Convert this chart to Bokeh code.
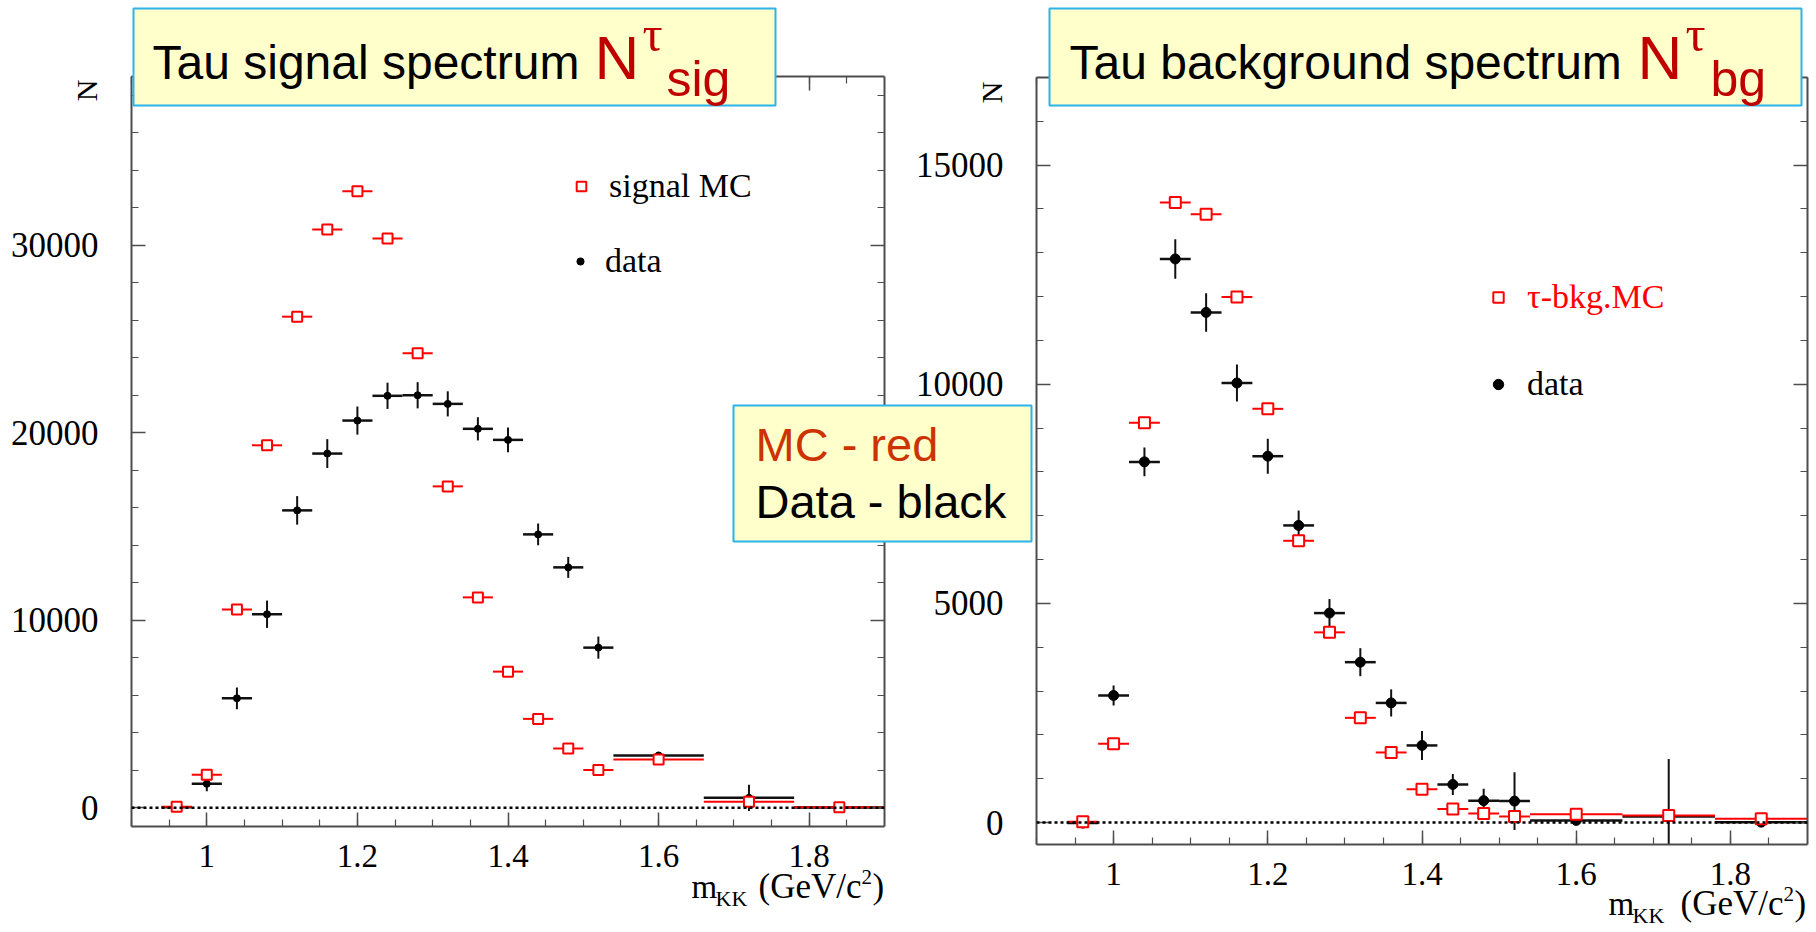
import numpy as np
from bokeh.plotting import figure
from bokeh.models import (GridBox, Range1d, LinearAxis, SingleIntervalTicker, Span,
                          Legend, LegendItem, ColumnDataSource, CustomJSTickFormatter, Label)
from bokeh.core.properties import value
from bokeh.embed import file_html
from bokeh.resources import INLINE

W, H = 1816, 932

# ---------------- data ----------------
bin_edges = [0.94, 0.98, 1.02, 1.06, 1.10, 1.14, 1.18, 1.22, 1.26, 1.30, 1.34,
             1.38, 1.42, 1.46, 1.50, 1.54, 1.66, 1.78, 1.90]

sig_mc = [50, 1760, 10580, 19330, 26190, 30840, 32880, 30360, 24240, 17140,
          11220, 7260, 4740, 3160, 2010, 2580, 320, 30]
sig_data = [30, 1280, 5840, 10320, 15860, 18890, 20650, 21970, 22000, 21540,
            20210, 19620, 14580, 12820, 8540, 2790, 530, 20]
sig_data_err = [100, 400, 580, 730, 760, 770, 750, 700, 700, 670,
                620, 660, 580, 560, 590, 150, 700, 100]

bg_mc = [20, 1800, 9120, 14150, 13880, 11990, 9440, 6430, 4340, 2390,
         1600, 760, 310, 210, 140, 190, 160, 90]
bg_data = [-10, 2900, 8230, 12860, 11640, 10030, 8360, 6780, 4780, 3660,
           2730, 1760, 870, 500, 490, 50, 140, 10]
bg_data_err = [60, 230, 330, 450, 440, 420, 400, 340, 320, 320,
               310, 330, 240, 270, 660, 60, 1310, 60]

x_ticks_interval = 0.2
left_title = "Tau signal spectrum"
right_title = "Tau background spectrum"

AXC = "#4d4d4d"
RED = "#ff0000"
SERIF = "Liberation Serif"
SANS = "Liberation Sans"


def style_axis(ax, show_labels, label_size, standoff):
    ax.axis_line_color = AXC
    ax.axis_line_width = 2
    ax.major_tick_line_color = AXC
    ax.major_tick_line_width = 1.5
    ax.minor_tick_line_color = AXC
    ax.minor_tick_line_width = 1.2
    ax.major_tick_in = 14
    ax.major_tick_out = 0
    ax.minor_tick_in = 7
    ax.minor_tick_out = 0
    ax.major_label_text_font = SERIF
    ax.major_label_text_font_size = label_size
    ax.major_label_text_color = "black"
    ax.major_label_standoff = standoff
    if not show_labels:
        ax.formatter = CustomJSTickFormatter(code="return ''")


def make_panel(mc, data, derr, yr, yint, borders, mc_size, d_size, mc_label, mc_label_color,
               leg_mc, leg_data, gw_mc, gw_data, transparent):
    bl, br, bt, bb = borders
    p = figure(width=W, height=H, x_range=Range1d(0.9, 1.9), y_range=Range1d(*yr),
               output_backend="svg", toolbar_location=None, title=None,
               x_axis_location=None, y_axis_location=None, frame_align=False,
               min_border_left=bl, min_border_right=br, min_border_top=bt, min_border_bottom=bb)
    p.xgrid.visible = False
    p.ygrid.visible = False
    p.outline_line_color = None
    if transparent:
        p.background_fill_color = None
        p.border_fill_color = None

    xfmt = CustomJSTickFormatter(code="return (Math.round(tick*10)/10).toString();")
    for loc in ("below", "above"):
        ax = LinearAxis(ticker=SingleIntervalTicker(interval=x_ticks_interval, num_minor_ticks=4))
        if loc == "below":
            ax.formatter = xfmt
        style_axis(ax, loc == "below", "33px", 18)
        p.add_layout(ax, loc)
    for loc in ("left", "right"):
        ax = LinearAxis(ticker=SingleIntervalTicker(interval=yint, num_minor_ticks=5))
        style_axis(ax, loc == "left", "35px", 33)
        p.add_layout(ax, loc)

    edges = np.array(bin_edges)
    lo, hi = edges[:-1], edges[1:]
    xc = (lo + hi) / 2
    d = np.array(data, dtype=float)
    e = np.array(derr, dtype=float)
    src = ColumnDataSource(dict(x=xc, lo=lo, hi=hi, mc=mc, data=d, dlo=d - e, dhi=d + e))

    p.add_layout(Span(location=0, dimension="width", line_color="black",
                      line_dash="3 3", line_width=2.5))

    p.segment(x0="lo", y0="data", x1="hi", y1="data", source=src, line_color="#111111", line_width=2.5)
    p.segment(x0="x", y0="dlo", x1="x", y1="dhi", source=src, line_color="#111111", line_width=2)
    r_data = p.scatter("x", "data", source=src, marker="circle", size=d_size,
                       fill_color="black", line_color="black")
    p.segment(x0="lo", y0="mc", x1="hi", y1="mc", source=src, line_color=RED, line_width=2)
    r_mc = p.scatter("x", "mc", source=src, marker="square", size=mc_size,
                     fill_color="white", line_color=RED, line_width=2)

    for label, rend, loc, col, gw in ((mc_label, r_mc, leg_mc, mc_label_color, gw_mc),
                                      ("data", r_data, leg_data, "black", gw_data)):
        leg = Legend(items=[LegendItem(label=label, renderers=[rend])], location=loc,
                     border_line_color=None, background_fill_alpha=0, padding=0, margin=0,
                     spacing=0, glyph_width=gw, glyph_height=40, label_height=40,
                     label_standoff=16, label_text_font=SERIF, label_text_font_size="34px",
                     label_text_color=col)
        p.add_layout(leg)
    return p


p1 = make_panel(sig_mc, sig_data, sig_data_err, (-1000, 39000), 10000,
                (131, W - 884, 76, H - 826), 10, 7, "signal MC", "black",
                (438, 620), (440, 545), 24, 18, False)
p2 = make_panel(bg_mc, bg_data, bg_data_err, (-500, 17000), 5000,
                (1036, W - 1807, 77, H - 844), 11, 10, "\u03c4-bkg.MC", RED,
                (449, 527), (449, 440), 26, 26, True)

# ---------------- overlay with text boxes and titles ----------------
p3 = figure(width=W, height=H, x_range=Range1d(0, W), y_range=Range1d(H, 0),
            output_backend="svg", toolbar_location=None, title=None, frame_align=False,
            x_axis_location=None, y_axis_location=None, min_border=0)
p3.xgrid.visible = False
p3.ygrid.visible = False
p3.outline_line_color = None
p3.background_fill_color = None
p3.border_fill_color = None

BOXFILL = "#ffffcc"
BOXLINE = "#2bb3ea"
p3.quad(left=[133, 1049, 733], right=[775, 1801, 1031], top=[8, 8, 405], bottom=[105, 105, 541],
        fill_color=BOXFILL, line_color=BOXLINE, line_width=2)


def lab(x, y, text, font, size, color, baseline="alphabetic", align="left", angle=0.0):
    # y is the wanted alphabetic baseline in canvas pixels; Bokeh places the
    # alphabetic baseline about 0.37 em lower, so compensate.
    if baseline == "alphabetic":
        y = y - 0.37 * size
    p3.add_layout(Label(x=x, y=y, text=text, text_font=font, text_font_size=f"{size}px",
                        text_color=color, text_baseline=baseline, text_align=align, angle=angle))


DRED = "#c00000"
lab(152, 80, left_title, SANS, 48, "black")
lab(594, 80, "N", SANS, 62, DRED)
lab(642, 52, "\u03c4", SERIF, 50, DRED)
lab(666, 97, "sig", SANS, 50, DRED)

lab(1069, 80, right_title, SANS, 48, "black")
lab(1637, 80, "N", SANS, 62, DRED)
lab(1685, 52, "\u03c4", SERIF, 50, DRED)
lab(1710, 97, "bg", SANS, 50, DRED)

lab(755, 461, "MC - red", SANS, 47, "#cc3300")
lab(755, 518, "Data - black", SANS, 47, "black")

# y axis titles
lab(86, 90, "N", SERIF, 30, "black", baseline="middle", align="center", angle=np.pi / 2)
lab(991, 92, "N", SERIF, 30, "black", baseline="middle", align="center", angle=np.pi / 2)

# x axis titles
for b, xs in ((899, (691, 715, 758, 861, 872)), (916, (1608, 1632, 1680, 1783, 1794))):
    lab(xs[0], b, "m", SERIF, 33, "black")
    lab(xs[1], b + 7, "KK", SERIF, 22, "black")
    lab(xs[2], b, "(GeV/c", SERIF, 35, "black")
    lab(xs[3], b - 15, "2", SERIF, 21, "black")
    lab(xs[4], b, ")", SERIF, 35, "black")

grid = GridBox(children=[(p1, 0, 0), (p2, 0, 0), (p3, 0, 0)])

open("out.html", "w").write(file_html(grid, INLINE))
